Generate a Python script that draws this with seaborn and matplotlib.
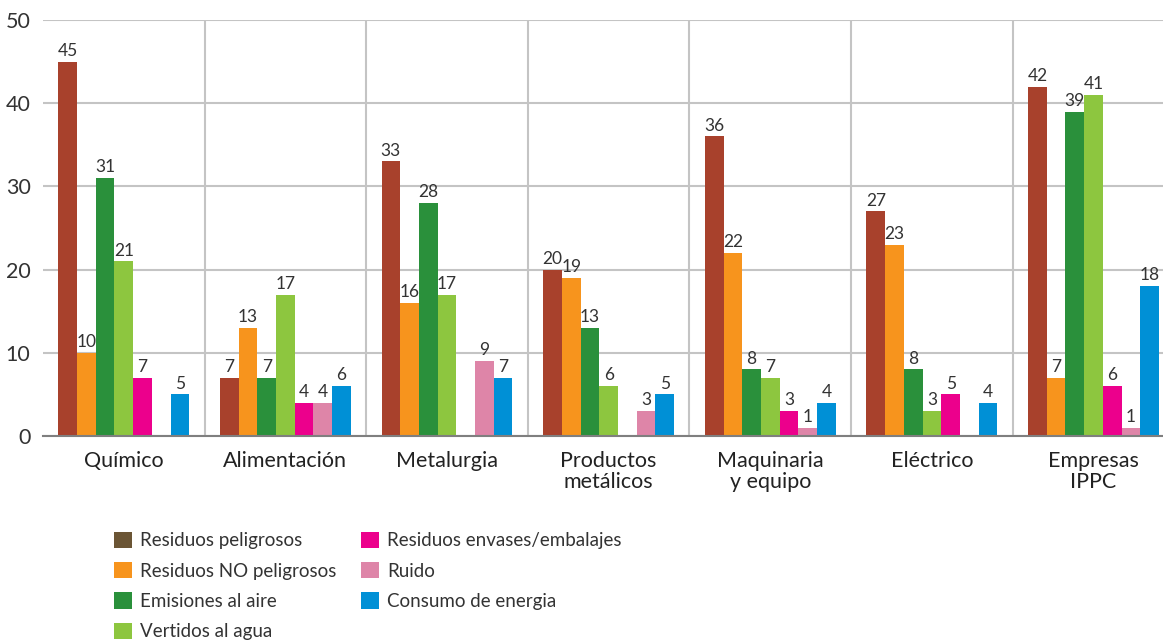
"""
Bar chart: environmental aspects by industrial sector
"""
import matplotlib
matplotlib.use('Agg')
import matplotlib.pyplot as plt
from matplotlib.patches import Patch
import pandas as pd
import seaborn as sns

# Data
sectors = ["Químico", "Alimentación", "Metalurgia", "Productos\nmetálicos",
           "Maquinaria\ny equipo", "Eléctrico", "Empresas\nIPPC"]
series = ["Residuos peligrosos", "Residuos NO peligrosos", "Emisiones al aire",
          "Vertidos al agua", "Residuos envases/embalajes", "Ruido",
          "Consumo de energia"]
residuos_peligrosos = [45, 7, 33, 20, 36, 27, 42]
residuos_no_peligrosos = [10, 13, 16, 19, 22, 23, 7]
emisiones_aire = [31, 7, 28, 13, 8, 8, 39]
vertidos_agua = [21, 17, 17, 6, 7, 3, 41]
residuos_envases = [7, 4, 0, 0, 3, 5, 6]
ruido = [0, 4, 9, 3, 1, 0, 1]
consumo_energia = [5, 6, 7, 5, 4, 4, 18]

bar_colors = ["#A8412C", "#F7941D", "#2A903B", "#8DC63F", "#EC008C", "#DE85A8", "#0090D6"]
legend_colors = ["#6B5535"] + bar_colors[1:]

values = [residuos_peligrosos, residuos_no_peligrosos, emisiones_aire, vertidos_agua,
          residuos_envases, ruido, consumo_energia]
rows = []
for name, vals in zip(series, values):
    for sector, v in zip(sectors, vals):
        rows.append({"sector": sector, "serie": name, "valor": v})
df = pd.DataFrame(rows)

sns.set_style("white")
plt.rcParams['font.family'] = ['Lato', 'DejaVu Sans']

fig = plt.figure(figsize=(11.63, 6.43), dpi=100)
ax = fig.add_axes([43 / 1163, 1 - 436 / 643, 1 - 43 / 1163, (436 - 20) / 643])

sns.barplot(data=df, x="sector", y="valor", hue="serie", order=sectors,
            hue_order=series, palette=bar_colors, width=0.81, saturation=1,
            linewidth=0, legend=False, ax=ax)

# value labels, skip empty bars
for container in ax.containers:
    labels = [f"{int(b.get_height())}" if b.get_height() > 0 else "" for b in container]
    ax.bar_label(container, labels=labels, padding=2, fontsize=12.5, color="#333333")

ax.set_ylim(0, 50)
ax.set_xlim(-0.5, 6.43)
ax.set_yticks(range(0, 51, 10))
ax.yaxis.grid(True, color="#C4C4C4", linewidth=1.5)
for x in [0.5, 1.5, 2.5, 3.5, 4.5, 5.5, 6.5]:
    ax.axvline(x, color="#C4C4C4", linewidth=1.5, zorder=0)
ax.set_axisbelow(True)
for side in ["top", "right", "left"]:
    ax.spines[side].set_visible(False)
ax.spines["bottom"].set_color("#7F7F7F")
ax.spines["bottom"].set_linewidth(1.5)
ax.tick_params(axis="y", length=0, pad=9, labelsize=15.5, labelcolor="#333333")
ax.tick_params(axis="x", length=0, pad=11, labelsize=15.5, labelcolor="#222222")
for lab in ax.get_xticklabels():
    lab.set_linespacing(1.05)
ax.set_xlabel("")
ax.set_ylabel("")

handles = [Patch(facecolor=c, edgecolor="none") for c in legend_colors]
fig.legend(handles, series, loc="upper left", bbox_to_anchor=(97 / 1163, 1 - 515 / 643),
           ncol=2, frameon=False, fontsize=13.5, handlelength=0.95, handleheight=0.95,
           handletextpad=0.45, labelspacing=0.68, columnspacing=1.3,
           labelcolor="#333333")

fig.savefig("out.png", dpi=100)
plt.close(fig)
